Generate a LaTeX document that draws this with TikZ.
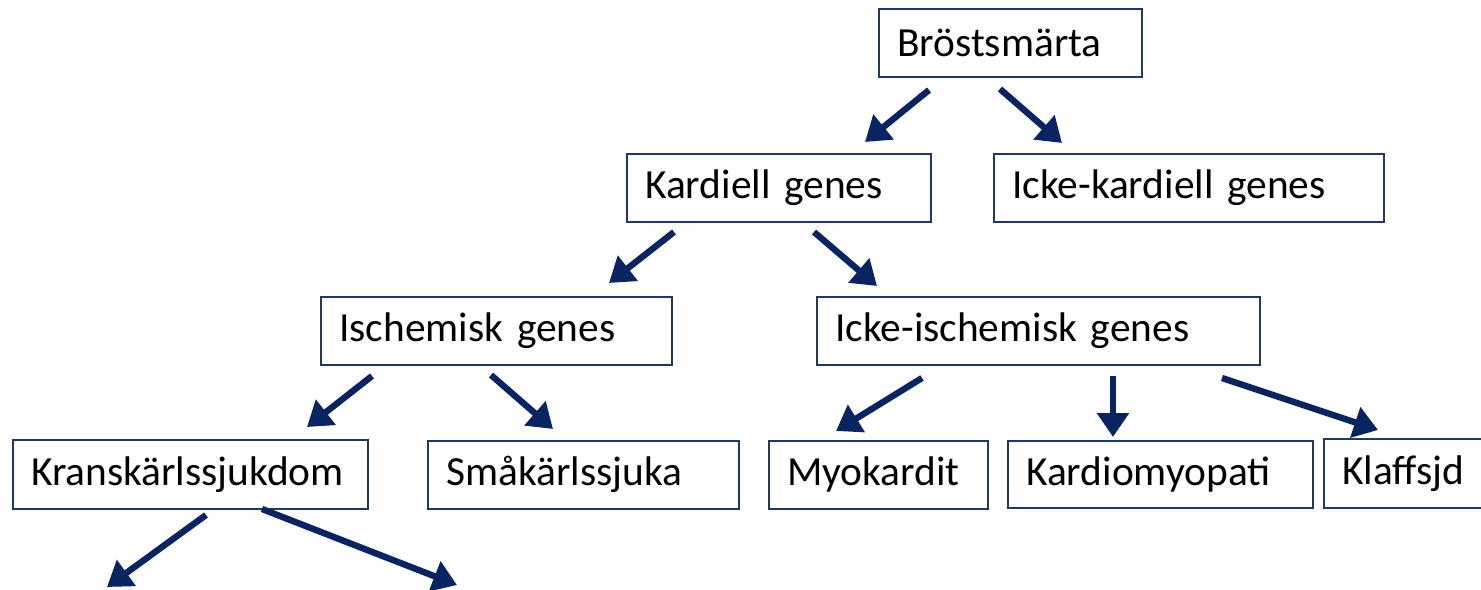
\documentclass[tikz,border=0pt]{standalone}
\usepackage{fontspec}
\setmainfont{Carlito}
\usetikzlibrary{arrows.meta}
\definecolor{boxblue}{HTML}{203864}
\definecolor{arrowblue}{HTML}{0A2462}
\begin{document}
\begin{tikzpicture}[x=0.5pt,y=-0.5pt,
  box/.style={draw=boxblue, line width=0.75pt, anchor=north west,
    inner xsep=9.25pt, inner ysep=0pt, minimum height=34pt,
    text width=#1, align=left, font=\fontsize{20.7}{24}\selectfont},
  arr/.style={draw=arrowblue, line width=3.2pt,
    -{Triangle[length=12pt,width=15.5pt]}}]
\path[use as bounding box, clip] (0,0) rectangle (1481,589);
% boxes
\node[box=113pt]   (bs)  at (878,8)    {Bröstsmärta};
\node[box=133.5pt] (kg)  at (626,153)  {Kardiell genes};
\node[box=176.5pt] (ikg) at (993,153)  {Icke-kardiell genes};
\node[box=157pt]   (ig)  at (320,296)  {Ischemisk genes};
\node[box=203pt]   (iig) at (816,296)  {Icke-ischemisk genes};
\node[box=159pt, minimum height=34.5pt] (kk) at (12,439) {Kranskärlssjukdom};
\node[box=137pt]   (sk)  at (427,440)  {Småkärlssjuka};
\node[box=91pt]    (mk)  at (768,440)  {Myokardit};
\node[box=134pt, minimum height=33.5pt] (km) at (1007,440) {Kardiomyopati};
\node[box=70pt, minimum height=34.5pt]  (kl) at (1323,438) {Klaffsjd};
% arrow end points
\coordinate (a1s) at (929,90);   \coordinate (a1e) at (865,142);
\coordinate (a2s) at (1000,89);  \coordinate (a2e) at (1062,143);
\coordinate (a3s) at (674,232);  \coordinate (a3e) at (609,283);
\coordinate (a4s) at (814,232);  \coordinate (a4e) at (877,286);
\coordinate (a5s) at (372,376);  \coordinate (a5e) at (307,427);
\coordinate (a6s) at (491,375);  \coordinate (a6e) at (553,429);
\coordinate (a7s) at (922,378);  \coordinate (a7e) at (836,431);
\coordinate (a8s) at (1113,376); \coordinate (a8e) at (1113,437);
\coordinate (a9s) at (1222,378); \coordinate (a9e) at (1378,430);
\coordinate (a10s) at (206,515); \coordinate (a10e) at (107,587);
\coordinate (a11s) at (262,509); \coordinate (a11e) at (457,585);
% arrows
\draw[arr] (a1s) -- (a1e);
\draw[arr] (a2s) -- (a2e);
\draw[arr] (a3s) -- (a3e);
\draw[arr] (a4s) -- (a4e);
\draw[arr] (a5s) -- (a5e);
\draw[arr] (a6s) -- (a6e);
\draw[arr] (a7s) -- (a7e);
\draw[arr] (a8s) -- (a8e);
\draw[arr] (a9s) -- (a9e);
\draw[arr] (a10s) -- (a10e);
\draw[arr] (a11s) -- (a11e);
\end{tikzpicture}
\end{document}
